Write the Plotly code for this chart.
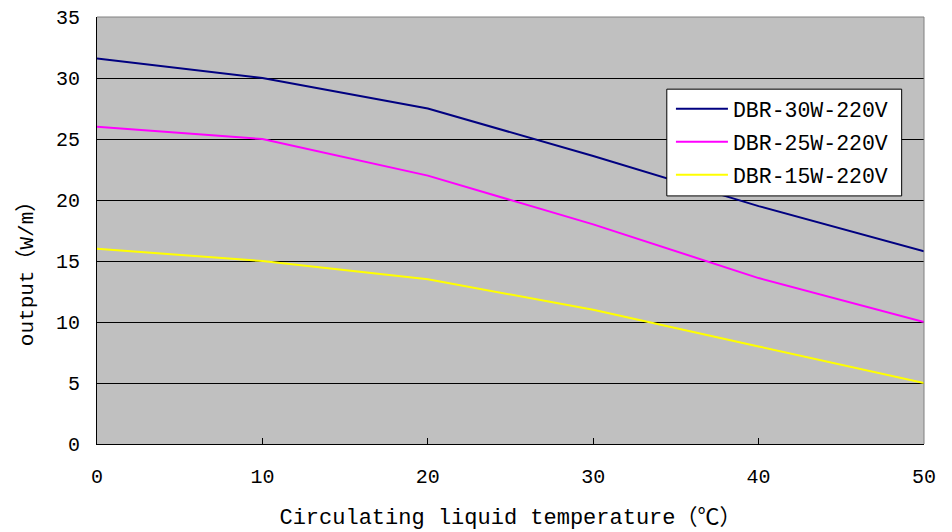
import plotly.graph_objects as go

temps = [0, 10, 20, 30, 40, 50]
dbr30 = [31.6, 30.0, 27.5, 23.6, 19.5, 15.8]
dbr25 = [26.0, 25.0, 22.0, 18.0, 13.6, 10.0]
dbr15 = [16.0, 15.0, 13.5, 11.0, 8.0, 5.0]
names = ["DBR-30W-220V", "DBR-25W-220V", "DBR-15W-220V"]
colors = ["#000080", "#FF00FF", "#FFFF00"]
y_ticks = [0, 5, 10, 15, 20, 25, 30, 35]
x_ticks = [0, 10, 20, 30, 40, 50]

font_main = "Liberation Mono, Noto Sans CJK SC, monospace"
cjk = "Noto Sans CJK SC"

fig = go.Figure()
for name, vals, col in zip(names, [dbr30, dbr25, dbr15], colors):
    fig.add_trace(go.Scatter(x=temps, y=vals, mode="lines", name=name,
                             legendgroup=name,
                             line=dict(color=col, width=2)))

fig.update_layout(
    width=952, height=532,
    margin=dict(l=89, r=36, t=9, b=96, autoexpand=False),
    paper_bgcolor="white",
    plot_bgcolor="#C0C0C0",
    font=dict(family=font_main, color="black", size=20),
    showlegend=True,
    legend=dict(x=0.694, y=0.833, xanchor="left", yanchor="top",
                bgcolor="rgba(0,0,0,0)", borderwidth=0,
                font=dict(family=font_main, size=21.5, color="black"),
                tracegroupgap=2, itemwidth=52),
    xaxis=dict(range=[0, 50], tickvals=x_ticks, showgrid=False, zeroline=False,
               showline=True, linecolor="black", linewidth=1, mirror=False,
               ticks="inside", ticklen=6, tickcolor="black",
               tickfont=dict(size=20), ticklabelstandoff=14,
               ticklabeloverflow="allow",
               title=dict(text="Circulating liquid temperature"
                               f"<span style='font-family:{cjk}'>（℃）</span>",
                          font=dict(size=22), standoff=20)),
    yaxis=dict(range=[0, 35], tickvals=y_ticks, showgrid=True, gridcolor="black",
               gridwidth=1, zeroline=False,
               showline=True, linecolor="black", linewidth=1,
               ticks="inside", ticklen=6, tickcolor="black",
               tickfont=dict(size=20), ticklabelstandoff=12,
               ticklabeloverflow="allow"),
)
fig.add_annotation(text=f"output<span style='font-family:{cjk}'>（</span>W/m"
                        f"<span style='font-family:{cjk}'>）</span>",
                   xref="paper", yref="paper", x=-0.088, y=0.41,
                   xanchor="center", yanchor="middle", textangle=-90,
                   showarrow=False, font=dict(size=21, family=font_main))
# legend box
fig.add_shape(type="rect", xref="paper", yref="paper", layer="above",
              x0=0.689, x1=0.973, y0=0.581, y1=0.831,
              fillcolor="white", line=dict(color="black", width=1))
# gray border for top and right of plot area
fig.add_shape(type="line", xref="paper", yref="paper", x0=0, x1=1, y0=1, y1=1,
              line=dict(color="#808080", width=1))
fig.add_shape(type="line", xref="paper", yref="paper", x0=1, x1=1, y0=0, y1=1,
              line=dict(color="#808080", width=1))

fig.write_html("out.html")
